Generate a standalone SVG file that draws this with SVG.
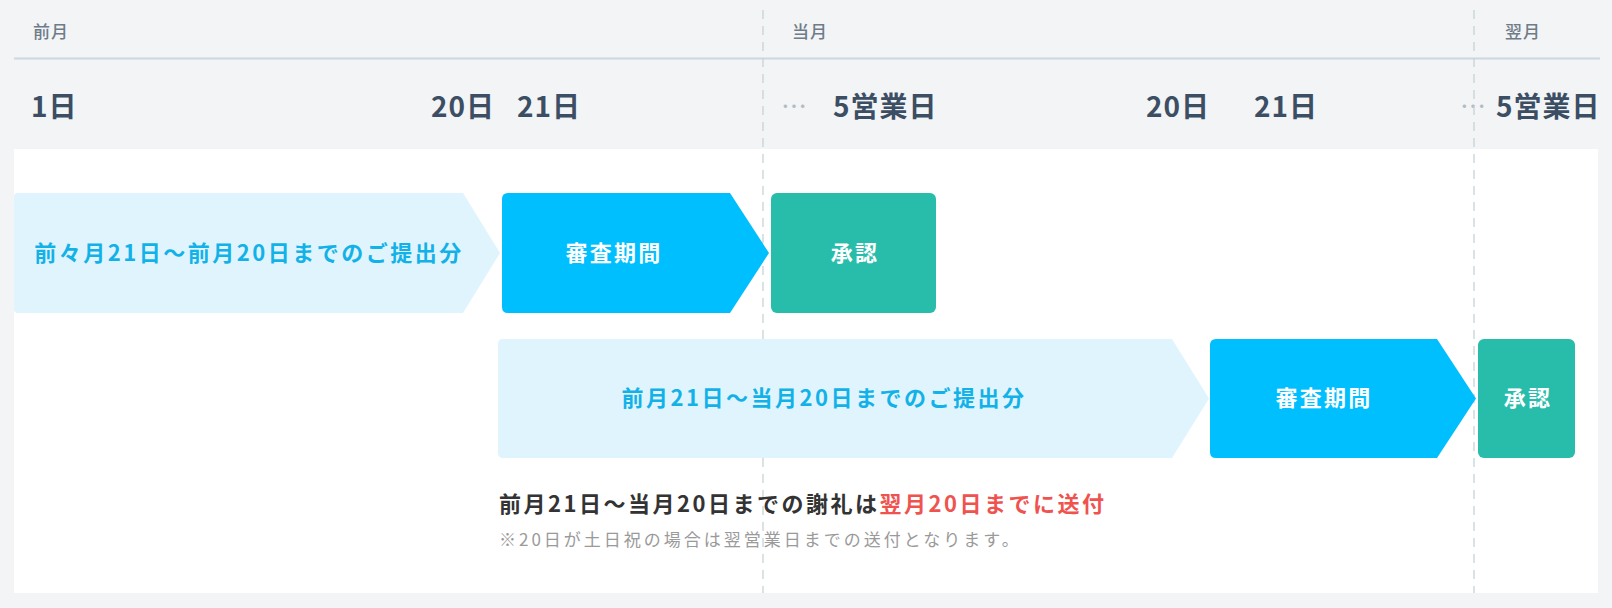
<svg xmlns="http://www.w3.org/2000/svg" width="1612" height="608" viewBox="0 0 1612 608">
<style>
  text { font-family: "Noto Sans CJK JP", "Noto Sans", sans-serif; }
  .month { font-size: 17px; fill: #6e7b88; font-weight: 500; letter-spacing: 1px; }
  .day { font-size: 28px; fill: #3c4e63; font-weight: 700; letter-spacing: 1px; }
  .dots { font-size: 26px; fill: #b3bcc4; }
  .light { fill: #e0f4fd; }
  .blue { fill: #00bfff; }
  .green { fill: #28bdab; }
  .ltxt { font-size: 22px; fill: #12b2e8; font-weight: 700; letter-spacing: 2.5px; text-anchor: middle; }
  .wtxt { font-size: 22px; fill: #ffffff; font-weight: 700; letter-spacing: 2.3px; text-anchor: middle; }
  .vline { stroke: #c5d3d6; stroke-width: 1.3; stroke-dasharray: 9 7; }
</style>
<rect x="0" y="0" width="1612" height="608" fill="#f2f4f6"/>
<rect x="14" y="149" width="1584" height="444" fill="#ffffff"/>
<line x1="14" y1="58.5" x2="1600" y2="58.5" stroke="#ccd7e0" stroke-width="2"/>

<g id="header">
  <text class="month" x="33" y="38">前月</text>
  <text class="month" x="792" y="38">当月</text>
  <text class="month" x="1505" y="38">翌月</text>
  <text class="day" x="31" y="117">1日</text>
  <text class="day" x="431" y="117">20日</text>
  <text class="day" x="517" y="117">21日</text>
  <text class="dots" x="781" y="116">…</text>
  <text class="day" x="833" y="117">5営業日</text>
  <text class="day" x="1146" y="117">20日</text>
  <text class="day" x="1254" y="117">21日</text>
  <text class="dots" x="1460" y="116">…</text>
  <text class="day" x="1496" y="117">5営業日</text>
</g>

<g id="connectors">
  <line class="vline" x1="763" y1="10" x2="763" y2="593"/>
  <line class="vline" x1="1474" y1="10" x2="1474" y2="593"/>
</g>

<g id="submit1">
  <path class="light" d="M18 193 H463 L500 253 L463 313 H18 Q14 313 14 309 V197 Q14 193 18 193 Z"/>
  <text class="ltxt" x="249" y="261">前々月21日〜前月20日までのご提出分</text>
</g>
<g id="review1">
  <path class="blue" d="M508 193 H730 L769 253 L730 313 H508 Q502 313 502 307 V199 Q502 193 508 193 Z"/>
  <text class="wtxt" x="614" y="261">審査期間</text>
</g>
<g id="approve1">
  <rect class="green" x="771" y="193" width="165" height="120" rx="6"/>
  <text class="wtxt" x="855" y="261">承認</text>
</g>

<g id="submit2">
  <path class="light" d="M503 339 H1172 L1209 398.5 L1172 458 H503 Q498 458 498 453 V344 Q498 339 503 339 Z"/>
  <text class="ltxt" x="824" y="406">前月21日〜当月20日までのご提出分</text>
</g>
<g id="review2">
  <path class="blue" d="M1216 339 H1437 L1476 398.5 L1437 458 H1216 Q1210 458 1210 452 V345 Q1210 339 1216 339 Z"/>
  <text class="wtxt" x="1324" y="406">審査期間</text>
</g>
<g id="approve2">
  <rect class="green" x="1478" y="339" width="97" height="119" rx="6"/>
  <text class="wtxt" x="1528" y="406">承認</text>
</g>

<g id="note">
  <text x="499" y="512" font-size="22" font-weight="700" fill="#333333" letter-spacing="2.5">前月21日〜当月20日までの謝礼は<tspan fill="#ef5350">翌月20日までに送付</tspan></text>
  <text x="499" y="546" font-size="17" fill="#9a9a9a" letter-spacing="3">※20日が土日祝の場合は翌営業日までの送付となります。</text>
</g>
</svg>
